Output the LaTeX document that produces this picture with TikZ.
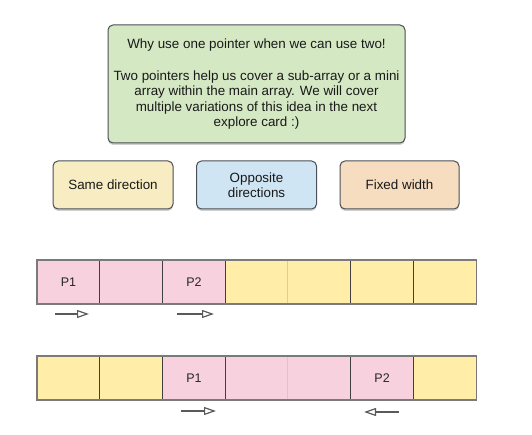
\documentclass[tikz,border=0pt]{standalone}
\usepackage{fontspec}
\setmainfont{Liberation Sans}
\usetikzlibrary{arrows.meta,shadows}
\definecolor{cardgreen}{HTML}{D5E8C4}
\definecolor{cardyellow}{HTML}{F8ECC2}
\definecolor{cardblue}{HTML}{D0E5F3}
\definecolor{cardorange}{HTML}{F6DDC0}
\definecolor{cardline}{HTML}{4A4F55}
\definecolor{cellpink}{HTML}{F8D1DF}
\definecolor{cellamber}{HTML}{FFEDA8}
\definecolor{framegray}{HTML}{7A7A7A}
\definecolor{ptrgray}{HTML}{5A5A5A}
\begin{document}
\begin{tikzpicture}[x=1pt,y=-1pt,
    card/.style={draw=cardline, line width=1pt, rounded corners=5pt, align=center,
      inner sep=0pt, text=black!90,
      drop shadow={shadow xshift=0pt, shadow yshift=-2pt, opacity=0.18, fill=black},
      font=\fontsize{13.4}{15.3}\selectfont},
    cell/.style={minimum width=62.71pt, minimum height=43.5pt, inner sep=0pt,
      anchor=north west, text=black!85, font=\fontsize{12.5}{14}\selectfont},
    sep/.style={draw=black!75, line width=0.8pt},
    faint/.style={draw=black!20, line width=0.8pt},
    frame/.style={draw=framegray, line width=1.4pt},
    ptr/.style={-{Triangle[open,length=12pt,width=8pt]}, draw=ptrgray, line width=1.2pt}]
  \useasboundingbox (0,0) rectangle (532,435);

  % cards
  \node[card, fill=cardgreen, minimum width=297pt, minimum height=118pt] (intro) at (256.5,84)
    {Why use one pointer when we can use two!\\[17pt]
     Two pointers help us cover a sub-array or a mini\\
     array within the main array. We will cover\\
     multiple variations of this idea in the next\\
     explore card :)};
  \node[card, fill=cardyellow, minimum width=120pt, minimum height=48pt] (same) at (113,185) {Same direction};
  \node[card, fill=cardblue, minimum width=120pt, minimum height=48pt] (opposite) at (256.5,185) {Opposite\\directions};
  \node[card, fill=cardorange, minimum width=119pt, minimum height=48pt] (fixed) at (399.5,185) {Fixed width};

  % first array
  \foreach \i/\c/\t in {0/cellpink/P1,1/cellpink/,2/cellpink/P2,3/cellamber/,4/cellamber/,5/cellamber/,6/cellamber/}
    \node[cell, fill=\c] (top\i) at ({37+62.71*\i},260) {\t};
  \foreach \i in {1,2,3,5,6} \draw[sep] (top\i.north west) -- (top\i.south west);
  \draw[faint] (top4.north west) -- (top4.south west);
  \draw[frame] (top0.north west) rectangle (top6.south east);

  % second array
  \foreach \i/\c/\t in {0/cellamber/,1/cellamber/,2/cellpink/P1,3/cellpink/,4/cellpink/,5/cellpink/P2,6/cellamber/}
    \node[cell, fill=\c] (bot\i) at ({37+62.71*\i},356) {\t};
  \foreach \i in {1,2,3,5,6} \draw[sep] (bot\i.north west) -- (bot\i.south west);
  \draw[faint] (bot4.north west) -- (bot4.south west);
  \draw[frame] (bot0.north west) rectangle (bot6.south east);

  % pointer arrows
  \coordinate (ta) at (55,314);  \coordinate (tb) at (89,314);
  \coordinate (tc) at (177,314); \coordinate (td) at (214,314);
  \coordinate (ba) at (181,411); \coordinate (bb) at (216,411);
  \coordinate (bc) at (399,412); \coordinate (bd) at (364,412);
  \draw[ptr] (ta) -- (tb);
  \draw[ptr] (tc) -- (td);
  \draw[ptr] (ba) -- (bb);
  \draw[ptr] (bc) -- (bd);
\end{tikzpicture}
\end{document}
